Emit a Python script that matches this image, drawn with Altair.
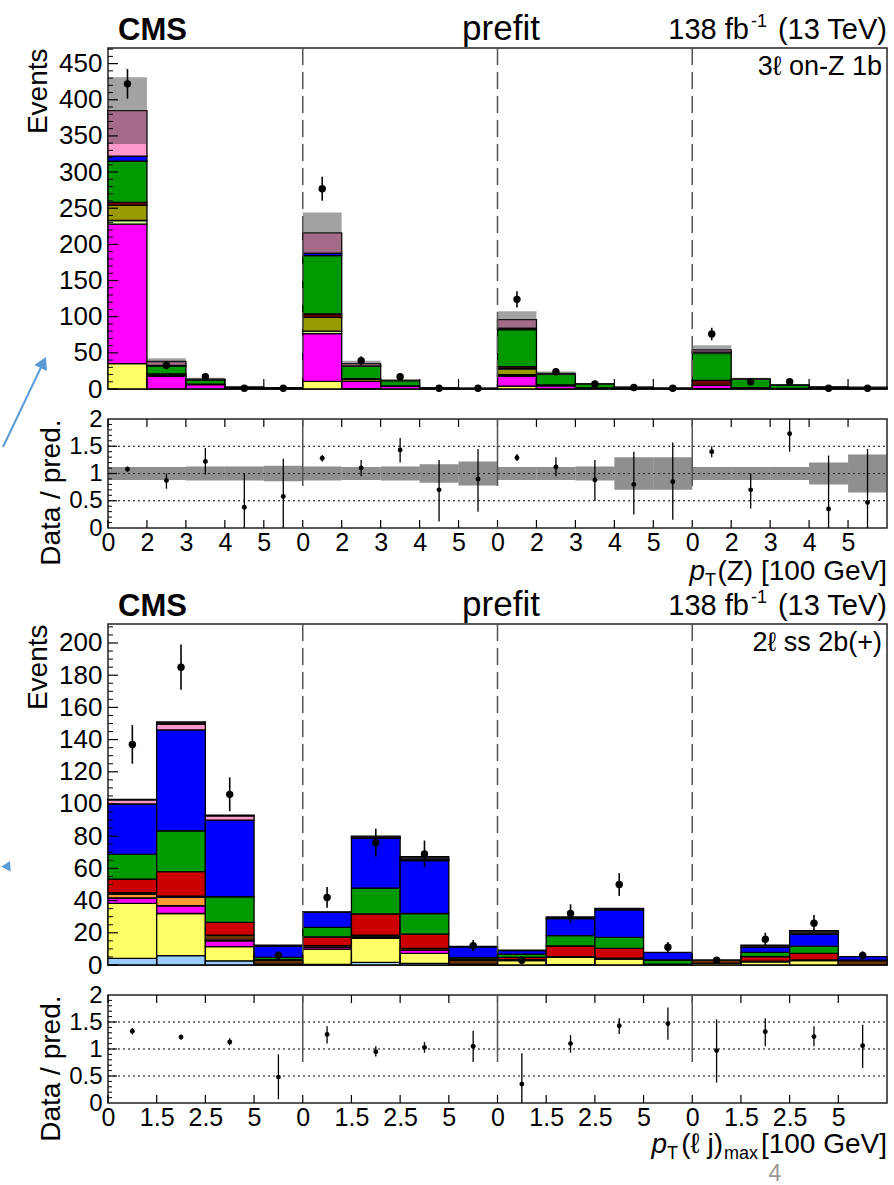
import json
import altair as alt
import pandas as pd

FONT = "Liberation Sans"

# ---------------- top chart: 3l on-Z 1b (20 bins, 4 groups of 5) ----------------
top_tick_labels = ["0", "2", "3", "4", "5"]
top_separators = [5, 10, 15]
top_proc_names = ["t_yellow", "t_magenta", "t_palegreen", "t_olive", "t_brown", "t_green", "t_blue", "t_pink"]
top_proc_colors = ["#ffff66", "#ff00ff", "#ccff99", "#999900", "#660000", "#009900", "#0000ff", "#ff99cc"]
top_yellow = [35, 0, 0, 0, 0, 10.6, 0.5, 0, 0, 0, 4, 0.3, 0, 0, 0, 0.5, 0, 0, 0, 0]
top_magenta = [193, 17.5, 6, 1.5, 0.8, 66, 10, 3.7, 0.6, 0.4, 14, 4, 1.5, 0.8, 0.4, 4.5, 1.5, 0.7, 1, 0.8]
top_palegreen = [5, 0.5, 0, 0, 0, 3.4, 0, 0, 0, 0, 2, 0, 0, 0, 0, 0, 0, 0, 0, 0]
top_olive = [21, 2, 0.5, 0, 0, 19, 3, 0.5, 0, 0, 8, 1, 0, 0, 0, 0, 0, 0, 0, 0]
top_brown = [4, 1, 0.3, 0, 0, 5, 0.8, 0, 0, 0, 3, 0.5, 0, 0, 0, 7, 0.5, 0, 0, 0]
top_green = [57, 11, 6, 1, 0.8, 80.5, 17, 7.4, 0.8, 0.6, 51, 14.5, 5.5, 1.5, 0.7, 38, 11.5, 4.7, 1.6, 1.3]
top_blue = [7, 0.5, 0.2, 0, 0, 3.5, 0.5, 0, 0, 0, 2, 0, 0, 0, 0, 1, 0, 0, 0, 0]
top_pink = [63, 5.5, 0.7, 0.2, 0.1, 28, 3.2, 0.4, 0.1, 0.1, 12, 1.2, 0.3, 0.2, 0.1, 3, 0.5, 0.3, 0.2, 0.1]
top_data = [422, 33, 17, 1, 1, 277, 39, 17, 1, 1, 124, 24, 7, 2, 1, 76, 10, 10, 1, 1]
top_data_err = [20.5, 5.7, 4.1, 1, 1, 16.6, 6.2, 4.1, 1, 1, 11.2, 4.9, 2.6, 1.4, 1, 8.7, 3.2, 3.2, 1, 1]
top_unc = [0.12, 0.12, 0.13, 0.13, 0.14, 0.13, 0.12, 0.13, 0.17, 0.22,
           0.12, 0.12, 0.13, 0.30, 0.30, 0.12, 0.12, 0.12, 0.20, 0.35]
top_ratio = [1.08, 0.87, 1.22, 0.38, 0.58, 1.28, 1.10, 1.43, 0.70, 0.90,
             1.29, 1.12, 0.88, 0.80, 0.85, 1.40, 0.70, 1.73, 0.35, 0.47]
top_ratio_lo = [1.03, 0.72, 0.98, 0.0, 0.0, 1.22, 0.95, 1.20, 0.12, 0.30,
                1.23, 0.95, 0.50, 0.25, 0.15, 1.30, 0.36, 1.40, 0.0, 0.0]
top_ratio_hi = [1.13, 1.00, 1.47, 1.00, 1.27, 1.34, 1.25, 1.65, 1.25, 1.45,
                1.36, 1.30, 1.25, 1.40, 1.57, 1.50, 1.00, 2.05, 1.33, 1.45]

# ---------------- bottom chart: 2l ss 2b(+) (16 bins, 4 groups of 4) ----------------
bot_tick_labels = ["0", "1.5", "2.5", "5"]
bot_separators = [4, 8, 12]
bot_proc_names = ["b_lightblue", "b_yellow", "b_magenta", "b_orange", "b_brown", "b_red", "b_green",
                  "b_blue", "b_pink", "b_black"]
bot_proc_colors = ["#99ccff", "#ffff66", "#ff00ff", "#ff9933", "#663300", "#cc0000", "#009900",
                   "#0000ff", "#ff99cc", "#222222"]
bot_lightblue = [4.1, 5.8, 2.6, 0.3, 0.3, 1.6, 1.0, 0.2, 0, 0.2, 0, 0, 0, 0, 0, 0]
bot_yellow = [34.2, 26.2, 8.8, 0.2, 9.6, 14.9, 6.2, 0.3, 2.7, 4.5, 3.7, 0, 1.0, 2.0, 2.7, 0]
bot_magenta = [3.3, 4.8, 3.6, 0, 1.1, 0.5, 2.1, 0, 0, 0, 0, 0, 0, 0, 0, 0]
bot_orange = [2.4, 5.2, 0.5, 0, 0, 0.5, 0, 0, 0, 0, 0, 0, 0, 0, 0, 0]
bot_brown = [1.0, 0.8, 3.1, 2.6, 1.0, 1.1, 1.0, 2.6, 0.6, 0.5, 0.5, 0.6, 2.1, 0.4, 0.4, 2.7]
bot_red = [8.4, 15.2, 7.9, 0.3, 5.4, 13.1, 8.9, 0.2, 1.4, 6.6, 6.1, 0, 0, 2.8, 4.1, 0]
bot_green = [15.3, 25.4, 15.9, 1.3, 6.0, 16.1, 12.8, 1.2, 2.1, 6.4, 6.9, 2.5, 0, 2.6, 4.4, 0.3]
bot_blue = [31.3, 62.6, 47.6, 7.0, 9.3, 30.8, 32.8, 6.7, 2.1, 10.6, 17.0, 4.7, 0, 3.1, 7.6, 2.2]
bot_pink = [2.5, 3.7, 2.7, 0.2, 0, 0.4, 0.5, 0, 0, 0, 0, 0, 0, 0, 0, 0]
bot_black = [0.3, 1.3, 0.3, 0.4, 0.3, 1.0, 2.0, 0.3, 0.3, 1.0, 1.0, 0, 0, 1.5, 2.1, 0]
bot_data = [137, 185, 106, 6, 42, 76, 69, 12, 3, 32, 50, 11, 3, 16, 26, 6]
bot_data_err = [12, 14, 10.5, 2.5, 6.5, 8.7, 8.3, 3.5, 1.7, 5.7, 7.1, 3.3, 1.7, 4, 5.1, 2.5]
bot_ratio = [1.33, 1.22, 1.13, 0.48, 1.27, 0.95, 1.03, 1.05, 0.35, 1.10, 1.43, 1.47, 0.97, 1.32, 1.23, 1.06]
bot_ratio_lo = [1.27, 1.17, 1.07, 0.07, 1.10, 0.86, 0.93, 0.76, 0.0, 0.93, 1.28, 1.17, 0.38, 1.05, 1.05, 0.65]
bot_ratio_hi = [1.39, 1.27, 1.20, 0.90, 1.42, 1.05, 1.13, 1.34, 0.92, 1.26, 1.57, 1.77, 1.55, 1.57, 1.42, 1.45]

W = 779
H_MAIN = 341
H_R1 = 109
H_R2 = 108


def stack_frame(names, series, nb):
    rows = []
    for i in range(nb):
        base = 0.0
        for name, vals in zip(names, series):
            v = vals[i]
            if v > 0:
                rows.append(dict(proc=name, x0=i, x1=i + 1, y0=base, y1=base + v))
            base += v
    return pd.DataFrame(rows)


def totals(series, nb):
    return [sum(s[i] for s in series) for i in range(nb)]


def txt(s, x, y, size, align="left", weight="normal", style="normal", color="black"):
    return alt.Chart(pd.DataFrame({"t": [s]})).mark_text(
        align=align, baseline="alphabetic", font=FONT, fontSize=size,
        fontWeight=weight, fontStyle=style, color=color
    ).encode(x=alt.value(x), y=alt.value(y), text="t:N")


def header(region):
    return [
        txt("CMS", 10, -8, 31, weight="bold"),
        txt("prefit", 393, -8, 35, align="center"),
        txt("(13 TeV)", 779, -9, 29, align="right"),
        txt("-1", 659, -21, 18, align="right"),
        txt("138 fb", 641, -9, 29, align="right"),
        txt(region, 774, 27, 27, align="right"),
    ]


def main_panel(names, colors, series, nb, data, derr, ymax, major, minor, seps, region, unc=None, extra=()):
    xs = alt.Scale(domain=[0, nb], nice=False, zero=False)
    ys = alt.Scale(domain=[0, ymax], nice=False, zero=False)
    ya = alt.Axis(values=major, labelFontSize=26, labelPadding=6, labelOverlap=False, labelFlush=False,
                  title="Events", titleFontSize=28, titleX=-84, titleY=0, titleAlign="right",
                  titleBaseline="top", titleAngle=270, ticks=False, tickSize=0, domain=False, grid=False)
    sdf = stack_frame(names, series, nb)
    bars = alt.Chart(sdf).mark_rect(stroke="black", strokeWidth=1.3).encode(
        x=alt.X("x0:Q", scale=xs, axis=None), x2="x1:Q",
        y=alt.Y("y0:Q", scale=ys, axis=ya), y2="y1:Q",
        fill=alt.Fill("proc:N", scale=alt.Scale(domain=names, range=colors), legend=None))
    layers = [bars]
    tot = totals(series, nb)
    if unc is not None:
        bdf = pd.DataFrame({"x0": list(range(nb)), "x1": [i + 1 for i in range(nb)],
                            "lo": [t * (1 - u) for t, u in zip(tot, unc)],
                            "hi": [t * (1 + u) for t, u in zip(tot, unc)]})
        layers.append(alt.Chart(bdf).mark_rect(fill="#333333", opacity=0.45).encode(
            x=alt.X("x0:Q", scale=xs, axis=None), x2="x1:Q",
            y=alt.Y("lo:Q", scale=ys, axis=ya), y2="hi:Q"))
    layers.append(alt.Chart(pd.DataFrame({"s": seps})).mark_rule(
        color="#555555", strokeWidth=1.5, strokeDash=[17, 7]).encode(
        x=alt.X("s:Q", scale=xs, axis=None), y=alt.value(0), y2=alt.value(H_MAIN)))
    ddf = pd.DataFrame({"c": [i + 0.5 for i in range(nb)], "v": data,
                        "lo": [max(d - e, 0) for d, e in zip(data, derr)],
                        "hi": [d + e for d, e in zip(data, derr)]})
    layers.append(alt.Chart(ddf).mark_rule(color="black", strokeWidth=1.6).encode(
        x=alt.X("c:Q", scale=xs, axis=None), y=alt.Y("lo:Q", scale=ys, axis=ya), y2="hi:Q"))
    layers.append(alt.Chart(ddf).mark_point(filled=True, color="black", size=55, opacity=1).encode(
        x=alt.X("c:Q", scale=xs, axis=None), y=alt.Y("v:Q", scale=ys, axis=ya)))
    # inward ticks
    layers.append(alt.Chart(pd.DataFrame({"e": list(range(1, nb))})).mark_rule(color="black", strokeWidth=1.2).encode(
        x=alt.X("e:Q", scale=xs, axis=None), y=alt.value(H_MAIN), y2=alt.value(H_MAIN - 10)))
    layers.append(alt.Chart(pd.DataFrame({"m": major})).mark_rule(color="black", strokeWidth=1.2).encode(
        y=alt.Y("m:Q", scale=ys, axis=ya), x=alt.value(0), x2=alt.value(10)))
    layers.append(alt.Chart(pd.DataFrame({"m": minor})).mark_rule(color="black", strokeWidth=1.0).encode(
        y=alt.Y("m:Q", scale=ys, axis=ya), x=alt.value(0), x2=alt.value(5)))
    layers += header(region)
    layers += list(extra)
    return alt.layer(*layers).properties(width=W, height=H_MAIN)


def ratio_panel(nb, H, ratio, rlo, rhi, labels, seps, title_layers, unc=None, extra=()):
    xs = alt.Scale(domain=[0, nb], nice=False, zero=False)
    ys = alt.Scale(domain=[0, 2], nice=False, zero=False)
    ya = alt.Axis(values=[0, 0.5, 1, 1.5, 2], format="~g", labelFontSize=24, labelPadding=6,
                  labelOverlap=False, labelFlush=False, title="Data / pred.", titleFontSize=28,
                  titleX=-71, titleY=0, titleAlign="right", titleBaseline="top", titleAngle=270,
                  ticks=False, tickSize=0, domain=False, grid=False)
    all_labels = labels * (nb // len(labels))
    xa = alt.Axis(values=list(range(nb)), labelExpr=json.dumps(all_labels) + "[datum.value]",
                  labelFontSize=25, labelPadding=2, labelOverlap=False, labelFlush=False,
                  title="", ticks=False, tickSize=0, domain=False, grid=False)
    layers = [alt.Chart(pd.DataFrame({"r": [0.5, 1.0, 1.5]})).mark_rule(
        color="black", strokeWidth=1.2, strokeDash=[2, 3]).encode(
        y=alt.Y("r:Q", scale=ys, axis=ya), x=alt.value(0), x2=alt.value(W))]
    edges = pd.DataFrame({"e": list(range(nb))})
    layers.append(alt.Chart(edges).mark_rule(color="black", strokeWidth=1.2).encode(
        x=alt.X("e:Q", scale=xs, axis=xa), y=alt.value(H), y2=alt.value(H - 8)))
    layers.append(alt.Chart(edges).mark_rule(color="black", strokeWidth=1.2).encode(
        x=alt.X("e:Q", scale=xs, axis=xa), y=alt.value(0), y2=alt.value(8)))
    if unc is not None:
        bdf = pd.DataFrame({"x0": list(range(nb)), "x1": [i + 1 for i in range(nb)],
                            "lo": [1 - u for u in unc], "hi": [1 + u for u in unc]})
        layers.append(alt.Chart(bdf).mark_rect(fill="#444444", opacity=0.6).encode(
            x=alt.X("x0:Q", scale=xs, axis=xa), x2="x1:Q",
            y=alt.Y("lo:Q", scale=ys, axis=ya), y2="hi:Q"))
    layers.append(alt.Chart(pd.DataFrame({"s": seps})).mark_rule(
        color="#555555", strokeWidth=1.5, strokeDash=[67, 41]).encode(
        x=alt.X("s:Q", scale=xs, axis=xa), y=alt.value(0), y2=alt.value(H)))
    rdf = pd.DataFrame({"c": [i + 0.5 for i in range(nb)], "v": ratio, "lo": rlo, "hi": rhi})
    layers.append(alt.Chart(rdf).mark_rule(color="black", strokeWidth=1.3, clip=True).encode(
        x=alt.X("c:Q", scale=xs, axis=xa), y=alt.Y("lo:Q", scale=ys, axis=ya), y2="hi:Q"))
    layers.append(alt.Chart(rdf).mark_point(filled=True, color="black", size=24, opacity=1).encode(
        x=alt.X("c:Q", scale=xs, axis=xa), y=alt.Y("v:Q", scale=ys, axis=ya)))
    layers.append(alt.Chart(pd.DataFrame({"m": [0.5, 1.0, 1.5]})).mark_rule(color="black", strokeWidth=1.2).encode(
        y=alt.Y("m:Q", scale=ys, axis=ya), x=alt.value(0), x2=alt.value(9)))
    layers.append(alt.Chart(pd.DataFrame({"m": [0.1, 0.2, 0.3, 0.4, 0.6, 0.7, 0.8, 0.9,
                                                1.1, 1.2, 1.3, 1.4, 1.6, 1.7, 1.8, 1.9]})).mark_rule(
        color="black", strokeWidth=1.0).encode(
        y=alt.Y("m:Q", scale=ys, axis=ya), x=alt.value(0), x2=alt.value(4)))
    layers += list(title_layers)
    layers += list(extra)
    return alt.layer(*layers).properties(width=W, height=H)


ARROW = "#5b9bd5"

top_series = [top_yellow, top_magenta, top_palegreen, top_olive, top_brown, top_green, top_blue, top_pink]
bot_series = [bot_lightblue, bot_yellow, bot_magenta, bot_orange, bot_brown, bot_red, bot_green, bot_blue,
              bot_pink, bot_black]

arrow1 = [
    alt.Chart(pd.DataFrame({"a": [0]})).mark_rule(color=ARROW, strokeWidth=2).encode(
        x=alt.value(-105), x2=alt.value(-64), y=alt.value(399), y2=alt.value(313)),
    alt.Chart(pd.DataFrame({"a": [0]})).mark_point(shape="triangle-up", filled=True, color=ARROW,
                                                  size=200, angle=26, opacity=1).encode(
        x=alt.value(-64.7), y=alt.value(314.5)),
    alt.Chart(pd.DataFrame({"a": [0]})).mark_rule(color="white", strokeWidth=1).encode(
        x=alt.value(0), x2=alt.value(2), y=alt.value(-46.5), y2=alt.value(-46.5)),
]
arrow2 = [
    alt.Chart(pd.DataFrame({"a": [0]})).mark_point(shape="triangle-up", filled=True, color=ARROW,
                                                  size=110, angle=26, opacity=1).encode(
        x=alt.value(-100), y=alt.value(241)),
]

main1 = main_panel(top_proc_names, top_proc_colors, top_series, 20, top_data, top_data_err,
                   471.6, list(range(0, 451, 50)), [v for v in range(10, 471, 10) if v % 50],
                   top_separators, "3ℓ  on-Z 1b", unc=top_unc, extra=arrow1)

ratio1_title = [
    txt("(Z) [100 GeV]", 779, 161, 28, align="right"),
    txt("T", 608, 167, 18, align="right"),
    txt("p", 597, 161, 28, align="right", style="italic"),
]
ratio1 = ratio_panel(20, H_R1, top_ratio, top_ratio_lo, top_ratio_hi, top_tick_labels, top_separators,
                     ratio1_title, unc=top_unc)

spacer = alt.Chart(pd.DataFrame({"a": [0]})).mark_point(opacity=0).encode(
    x=alt.value(0), y=alt.value(0)).properties(width=W, height=36, view=alt.ViewBackground(strokeOpacity=0))

main2 = main_panel(bot_proc_names, bot_proc_colors, bot_series, 16, bot_data, bot_data_err,
                   211.8, list(range(0, 201, 20)), [v for v in range(5, 211, 5) if v % 20],
                   bot_separators, "2ℓ ss 2b(+)", extra=arrow2)

ratio2_title = [
    txt("[100 GeV]", 779, 158, 28, align="right"),
    txt("max", 650, 164, 18, align="right"),
    txt("(ℓ j)", 615, 158, 28, align="right"),
    txt("T", 570, 164, 18, align="right"),
    txt("p", 559, 158, 28, align="right", style="italic"),
]
ratio2 = ratio_panel(16, H_R2, bot_ratio, bot_ratio_lo, bot_ratio_hi, bot_tick_labels, bot_separators,
                     ratio2_title, extra=[txt("4", 667, 186, 23, align="center", color="#999999")])

chart = alt.vconcat(main1, ratio1, spacer, main2, ratio2, spacing=30, bounds="flush").resolve_scale(
    fill="independent"
).properties(
    padding=0
).configure_view(stroke="#222222", strokeWidth=1.5).configure_axis(
    labelFont=FONT, titleFont=FONT, labelColor="black", titleColor="black", titleFontWeight="normal"
)

chart.save("out.html", embed_options={"renderer": "svg", "actions": False})
